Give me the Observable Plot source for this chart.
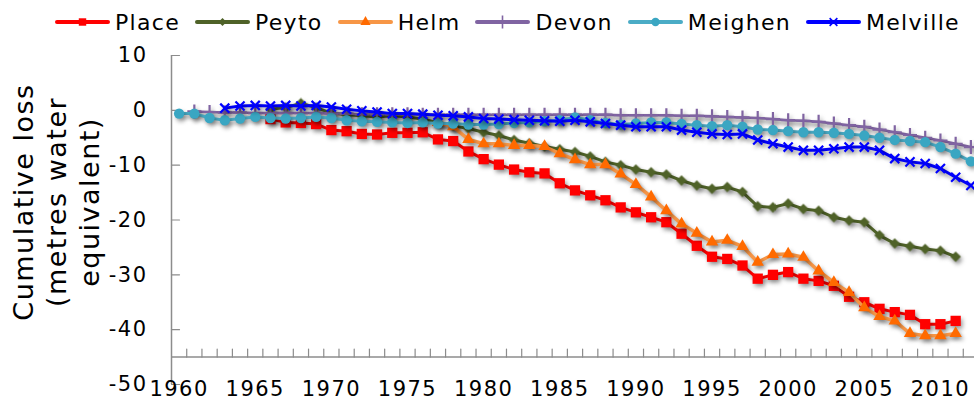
<!DOCTYPE html>
<html>
<head>
<meta charset="utf-8">
<script src="https://cdn.jsdelivr.net/npm/d3@7"></script>
<script src="https://cdn.jsdelivr.net/npm/@observablehq/plot@0.6"></script>
<style>
  html, body { margin: 0; padding: 0; background: #fff; overflow: hidden; }
  #legend { box-sizing: border-box; height: 40px; padding-top: 4px; padding-left: 55px; display: flex; align-items: center;
            font-family: "DejaVu Sans", sans-serif; font-size: 22px; letter-spacing: 1.3px; color: #000; white-space: nowrap; }
  .item { display: flex; align-items: center; margin-right: 15px; }
  .item span { margin-left: 5px; }
  .item svg { display: block; }
</style>
</head>
<body>
<div id="legend"></div>
<div id="chart"></div>
<script>
// ---------- data ----------
const seriesNames = ["Place", "Peyto", "Helm", "Devon", "Meighen", "Melville"];

const placeStart = 1966;
const placeValues = [-1.6, -2.2, -2.3, -2.5, -3.6, -3.8, -4.3, -4.4, -4.1, -4.1,
  -4.0, -5.3, -5.6, -7.5, -8.9, -9.9, -10.8, -11.3, -11.5, -13.3,
  -14.6, -15.5, -16.4, -17.7, -18.6, -19.5, -20.4, -22.5, -24.7, -26.7,
  -27.1, -28.3, -30.7, -30.0, -29.5, -30.7, -31.1, -32.0, -34.0, -35.0,
  -36.2, -36.8, -37.3, -39.0, -39.0, -38.4];

const peytoStart = 1966;
const peytoValues = [0.2, 0.5, 1.3, 0.5, -0.5, -0.8, -1.0, -1.2, -1.0, -1.2,
  -1.6, -2.2, -2.8, -3.3, -4.0, -4.6, -5.4, -6.0, -6.6, -7.1,
  -7.6, -8.4, -9.4, -10.0, -10.8, -11.3, -11.7, -12.8, -13.7, -14.3,
  -14.0, -14.9, -17.5, -17.7, -17.0, -18.0, -18.3, -19.5, -20.1, -20.4,
  -22.8, -24.3, -24.8, -25.3, -25.6, -26.7];

const helmStart = 1977;
const helmValues = [-2.2, -3.0, -5.3,
  -6.1, -6.1, -6.4, -6.4, -6.6, -7.9,
  -9.0, -9.9, -9.9, -11.6, -13.5, -15.8, -18.3, -20.7, -22.4, -24.0,
  -23.7, -24.8, -27.7, -26.3, -26.2, -26.8, -29.3, -31.4, -33.2, -36.0,
  -37.6, -38.4, -40.7, -41.1, -41.1, -40.7];

const devonStart = 1961;
const devonValues = [-0.2, -0.3, -0.4, -0.4, -0.5, -0.5, -0.5, -0.5, -0.5,
  -0.6, -0.6, -0.7, -0.7, -0.7, -0.7, -0.8, -0.8, -0.8, -0.8,
  -0.8, -0.8, -0.8, -0.8, -0.8, -0.8, -0.8, -0.8, -0.8, -0.9,
  -0.9, -0.9, -0.9, -1.0, -1.0, -1.1, -1.2, -1.3, -1.4, -1.6,
  -1.8, -1.9, -2.1, -2.4, -2.7, -3.0, -3.5, -4.0, -4.5, -5.0,
  -5.5, -6.1, -6.7];

const meighenStart = 1960;
const meighenValues = [-0.6, -0.6, -1.4, -1.8, -1.5, -1.2, -1.4, -1.5, -1.4, -1.2,
  -1.4, -1.8, -2.0, -2.1, -2.2, -2.3, -2.2, -2.4, -2.4, -2.6,
  -2.6, -2.5, -2.3, -2.2, -2.0, -1.8, -1.3, -1.8, -2.3, -2.6,
  -2.4, -2.2, -2.2, -2.5, -2.7, -2.9, -2.7, -3.0, -3.5, -3.6,
  -3.8, -4.0, -4.0, -4.1, -4.3, -4.6, -5.0, -5.4, -5.6, -5.8,
  -6.7, -7.9, -9.3];

const melvilleStart = 1963;
const melvilleValues = [0.4, 0.8, 0.9, 0.8, 0.9, 0.8, 0.9,
  0.6, 0.2, -0.1, -0.3, -0.6, -0.6, -0.7, -0.9, -1.0, -1.2,
  -1.5, -1.6, -1.7, -1.8, -1.9, -2.0, -1.8, -2.1, -2.4, -2.7,
  -3.0, -3.0, -3.0, -3.6, -4.0, -4.3, -4.4, -4.3, -5.4, -6.1,
  -6.7, -7.3, -7.3, -7.0, -6.7, -6.7, -7.3, -8.8, -9.4, -9.7,
  -10.6, -12.2, -13.7];

const categoryYears = d3.range(1960, 2013);            // 1960 … 2012
const xTickLabels = [1960, 1965, 1970, 1975, 1980, 1985, 1990, 1995, 2000, 2005, 2010];
const yTickValues = [10, 0, -10, -20, -30, -40, -50];
const xAxisCrossing = -45;
const yTitle = "Cumulative loss\n(metres water\nequivalent)";

// ---------- styles ----------
const lineColors   = ["#ff0000", "#4f6228", "#f79646", "#8064a2", "#4bacc6", "#0000ff"];
const markerColors = ["#ff0000", "#4f6228", "#ff6a00", "#8064a2", "#3aa6c2", "#0000ff"];
const axisColor = "#8c8c8c";

const rows = (start, vals) => vals.map((v, i) => ({year: start + i, value: v}));
const series = [
  {name: "Place",    data: rows(placeStart, placeValues),       symbol: "square",   r: 5.8, lr: 4.2, rotate: 0,  stroked: false, lw: 3},
  {name: "Peyto",    data: rows(peytoStart, peytoValues),       symbol: "square",   r: 4.2, lr: 3.2, rotate: 45, stroked: false, lw: 3},
  {name: "Helm",     data: rows(helmStart, helmValues),         symbol: "triangle", r: 4.6, lr: 3.8, rotate: 0,  stroked: false, lw: 3.5},
  {name: "Devon",    data: rows(devonStart, devonValues),       symbol: "plus",     r: 4.6, lr: 4.2, rotate: 0,  stroked: true,  lw: 2.5},
  {name: "Meighen",  data: rows(meighenStart, meighenValues),   symbol: "circle",   r: 5.2, lr: 4.2, rotate: 0,  stroked: false, lw: 3},
  {name: "Melville", data: rows(melvilleStart, melvilleValues), symbol: "times",    r: 4.2, lr: 3.6, rotate: 0,  stroked: true,  lw: 3}
];

// ---------- chart ----------
const x0 = categoryYears[0] - 0.5, x1 = categoryYears[categoryYears.length - 1] + 0.5;
const xTickPositions = categoryYears.slice(1).map(y => y - 0.5);
const tickShape = {draw(ctx, l) { ctx.moveTo(0, 0); ctx.lineTo(0, -l); }};

const seriesMarks = [];
series.forEach((s, i) => {
  seriesMarks.push(Plot.line(s.data, {x: "year", y: "value", stroke: lineColors[i], strokeWidth: s.lw, strokeLinejoin: "round", strokeLinecap: "round"}));
  if (s.stroked) {
    seriesMarks.push(Plot.dot(s.data, {x: "year", y: "value", symbol: s.symbol, r: s.r, stroke: markerColors[i], strokeWidth: 2.2, fill: "none"}));
  } else {
    seriesMarks.push(Plot.dot(s.data, {x: "year", y: "value", symbol: s.symbol, r: s.r, rotate: s.rotate, fill: markerColors[i], stroke: "none"}));
  }
});

const chart = Plot.plot({
  width: 974,
  height: 360,
  marginLeft: 171,
  marginRight: 0,
  marginTop: 15,
  marginBottom: 16,
  x: {domain: [x0, x1], range: [171, 978], axis: null},
  y: {domain: [-50, 10], range: [344, 15], axis: null},
  style: {fontFamily: "'DejaVu Sans', sans-serif", fontSize: "21px", letterSpacing: "1.5px", color: "#000", background: "#fff", overflow: "hidden"},
  marks: [
    Plot.ruleY([xAxisCrossing], {x1: x0, x2: x1, stroke: axisColor, strokeWidth: 1.5}),
    Plot.ruleX([x0], {y1: -50, y2: 10, stroke: axisColor, strokeWidth: 1.5}),
    Plot.vector(yTickValues, {x: x0, y: d => d, length: 8, rotate: 90, anchor: "start", shape: tickShape, stroke: axisColor, strokeWidth: 1.2}),
    Plot.vector(xTickPositions, {x: d => d, y: xAxisCrossing, length: 8, rotate: 0, anchor: "start", shape: tickShape, stroke: axisColor, strokeWidth: 1.2}),
    Plot.text(yTickValues, {x: x0, y: d => d, text: d => String(d), textAnchor: "end", dx: -24, fill: "#000"}),
    Plot.text(xTickLabels, {x: d => d, y: -50, dy: 5, text: d => String(d), fill: "#000"}),
    Plot.text([yTitle], {frameAnchor: "left", textAnchor: "middle", lineAnchor: "middle", text: d => d, rotate: -90, dx: -116, dy: -18, fontSize: 27, lineHeight: 1.22, fill: "#000"}),
    ...seriesMarks
  ]
});

d3.select(chart).selectAll('g[aria-label="line"], g[aria-label="dot"]')
  .style("filter", "drop-shadow(2px 3px 2px rgba(0,0,0,0.35))");

document.getElementById("chart").appendChild(chart);

// ---------- legend ----------
const legend = d3.select("#legend");
const symbolOf = {square: d3.symbolSquare, triangle: d3.symbolTriangle, circle: d3.symbolCircle, plus: d3.symbolPlus, times: d3.symbolTimes};
series.forEach((s, i) => {
  const item = legend.append("div").attr("class", "item");
  const sw = item.append("svg").attr("width", 55).attr("height", 20);
  sw.append("line").attr("x1", 2).attr("x2", 53).attr("y1", 10).attr("y2", 10)
    .attr("stroke", lineColors[i]).attr("stroke-width", 4).attr("stroke-linecap", "round");
  const path = d3.symbol(symbolOf[s.symbol], Math.PI * s.lr * s.lr)();
  const p = sw.append("path").attr("d", path).attr("transform", `translate(27.5,10) rotate(${s.rotate})`);
  if (s.stroked) p.attr("fill", "none").attr("stroke", markerColors[i]).attr("stroke-width", 1.6);
  else p.attr("fill", markerColors[i]);
  item.append("span").text(s.name);
});
</script>
</body>
</html>
